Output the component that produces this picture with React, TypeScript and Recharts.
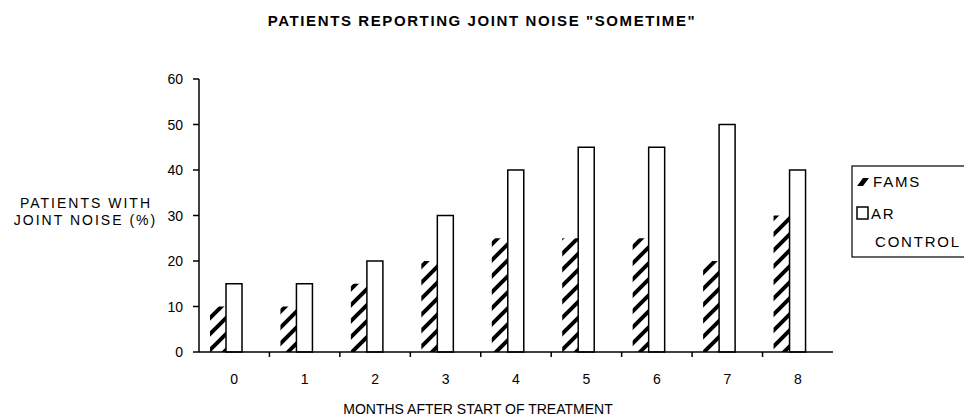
import React from 'react';
import { BarChart, Bar, XAxis, YAxis } from 'recharts';

const months = ['0', '1', '2', '3', '4', '5', '6', '7', '8'];
const famsValues = [10, 10, 15, 20, 25, 25, 25, 20, 30];
const arValues = [15, 15, 20, 30, 40, 45, 45, 50, 40];
const controlValues = [0, 0, 0, 0, 0, 0, 0, 0, 0];
const yTicks = [0, 10, 20, 30, 40, 50, 60];

const titleText = 'PATIENTS REPORTING JOINT NOISE "SOMETIME"';
const yLabelLines = ['PATIENTS WITH', 'JOINT NOISE (%)'];
const xLabelText = 'MONTHS AFTER START OF TREATMENT';
const legendNames = ['FAMS', 'AR', 'CONTROL'];

const data = months.map((m, i) => ({
  month: m,
  FAMS: famsValues[i],
  AR: arValues[i],
  CONTROL: controlValues[i],
}));

const FONT = '"Liberation Sans", Arial, sans-serif';
const W = 964;
const H = 411;

const XTick = (props: any) => {
  const { x, y, payload, index } = props;
  return (
    <g>
      <text x={x} y={y + 32} textAnchor="middle" fontFamily={FONT} fontSize={14} fill="#000">
        {payload.value}
      </text>
      {index < months.length - 1 && (
        <line x1={x + 35.2} x2={x + 35.2} y1={y} y2={y + 5} stroke="#000" strokeWidth={1.5} />
      )}
    </g>
  );
};

const YTick = (props: any) => {
  const { x, y, payload } = props;
  return (
    <text x={x} y={y + 5} textAnchor="end" fontFamily={FONT} fontSize={14} fill="#000">
      {payload.value}
    </text>
  );
};

export default function App() {
  return (
    <div style={{ position: 'relative', width: W, height: H, background: '#fff' }}>
      <svg width={0} height={0} style={{ position: 'absolute' }}>
        <defs>
          <pattern id="hatch" patternUnits="userSpaceOnUse" width={16} height={16}>
            <rect x={0} y={0} width={16} height={16} fill="#fff" />
            <path d="M-4,4 L4,-4 M-4,20 L20,-4 M12,20 L20,12" stroke="#000" strokeWidth={4} />
          </pattern>
        </defs>
      </svg>
      <BarChart
        width={W}
        height={H}
        data={data}
        margin={{ top: 71, right: 139, bottom: 37, left: 131 }}
        barGap={0}
        barSize={16}
      >
        <XAxis
          dataKey="month"
          height={30}
          tickLine={false}
          tickSize={0}
          tickMargin={0}
          axisLine={{ stroke: '#000', strokeWidth: 1.5 }}
          tick={<XTick />}
          interval={0}
        />
        <YAxis
          width={60}
          domain={[0, 60]}
          ticks={yTicks}
          tickSize={6}
          tickMargin={10}
          tickLine={{ stroke: '#000', strokeWidth: 1.5 }}
          axisLine={{ stroke: '#000', strokeWidth: 1.5 }}
          tick={<YTick />}
        />
        <Bar dataKey="FAMS" fill="url(#hatch)" isAnimationActive={false} />
        <Bar dataKey="AR" fill="#fff" stroke="#000" strokeWidth={1.5} isAnimationActive={false} />
        <Bar dataKey="CONTROL" fill="#fff" isAnimationActive={false} />
      </BarChart>
      <svg
        width={W}
        height={H}
        style={{ position: 'absolute', left: 0, top: 0, pointerEvents: 'none' }}
      >
        <text x={474} y={17.5} textAnchor="middle" fontFamily={FONT} fontSize={15} fontWeight="bold" letterSpacing={1.6} fill="#000">
          {titleText}
        </text>
        <text x={78} y={200} textAnchor="middle" fontFamily={FONT} fontSize={14} letterSpacing={2} fill="#000">
          {yLabelLines[0]}
        </text>
        <text x={77.5} y={217} textAnchor="middle" fontFamily={FONT} fontSize={14} letterSpacing={2} fill="#000">
          {yLabelLines[1]}
        </text>
        <text x={470} y={406} textAnchor="middle" fontFamily={FONT} fontSize={14} fill="#000">
          {xLabelText}
        </text>
        <rect x={844} y={158} width={118} height={91} fill="none" stroke="#000" strokeWidth={1.2} />
        <path d="M849,178 L855,170 L861,170 L855,178 Z" fill="#000" />
        <text x={865} y={179} fontFamily={FONT} fontSize={15} letterSpacing={1.8} fill="#000">
          {legendNames[0]}
        </text>
        <rect x={849} y={199} width={11} height={12} fill="#fff" stroke="#000" strokeWidth={1.5} />
        <text x={863} y={210.5} fontFamily={FONT} fontSize={15} letterSpacing={1.8} fill="#000">
          {legendNames[1]}
        </text>
        <text x={867} y={238.5} fontFamily={FONT} fontSize={15} letterSpacing={1.8} fill="#000">
          {legendNames[2]}
        </text>
      </svg>
    </div>
  );
}
